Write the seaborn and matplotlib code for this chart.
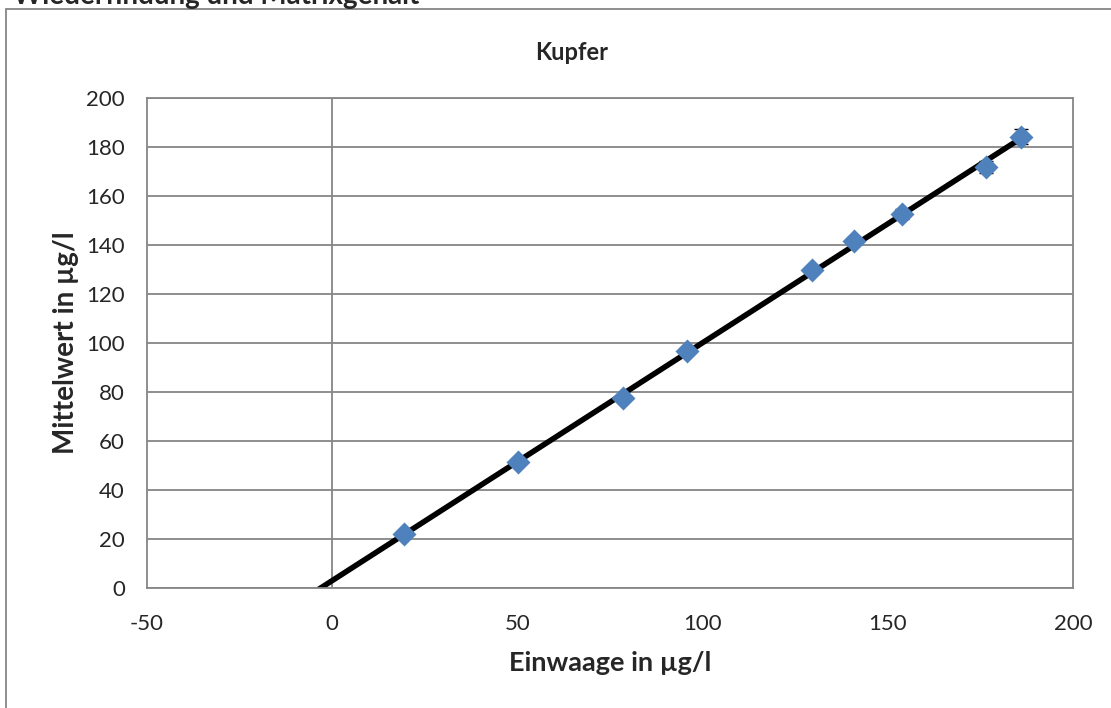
import numpy as np
import pandas as pd
import seaborn as sns
import matplotlib.pyplot as plt
from matplotlib.patches import Rectangle

# Data (Kupfer)
einwaage = [19.5, 50.2, 78.4, 95.9, 129.5, 141.0, 153.8, 176.5, 186.0]
mittelwert = [22.1, 51.5, 77.5, 96.9, 129.6, 141.7, 152.6, 171.8, 184.2]
fehler = [1.0, 1.0, 1.0, 1.2, 1.5, 1.5, 2.0, 2.5, 3.0]

x_ticks = [-50, 0, 50, 100, 150, 200]
y_ticks = [0, 20, 40, 60, 80, 100, 120, 140, 160, 180, 200]

df = pd.DataFrame({"Einwaage": einwaage, "Mittelwert": mittelwert, "Fehler": fehler})

sns.set_theme(style="white")
plt.rcParams['font.family'] = ['Lato', 'DejaVu Sans']
plt.rcParams['axes.unicode_minus'] = False

grid_col = '#868686'
blue = '#4F81BD'

fig = plt.figure(figsize=(11.11, 7.08), dpi=100)
ax = fig.add_axes([0.1323, 0.1695, 0.8335, 0.6921])

# outer chart frame (runs off the right and bottom edge)
fig.patches.append(Rectangle((0.005, -0.1), 1.2, 0.9873 + 0.1, transform=fig.transFigure,
                             fill=False, edgecolor=grid_col, lw=1.3, clip_on=False))

ax.set_xlim(-50, 200)
ax.set_ylim(0, 200)
for y in y_ticks:
    ax.axhline(y, color=grid_col, lw=1.3, zorder=1)
ax.axvline(0, color=grid_col, lw=1.3, zorder=1)

# linear trendline
slope, intercept = np.polyfit(df["Einwaage"], df["Mittelwert"], 1)
xl = np.array([-20, max(einwaage)])
ax.plot(xl, slope * xl + intercept, color='black', lw=4, zorder=2, solid_capstyle='butt')

ax.errorbar(df["Einwaage"], df["Mittelwert"], yerr=df["Fehler"], fmt='none',
            ecolor='black', elinewidth=1, capsize=5, zorder=3)
sns.scatterplot(data=df, x="Einwaage", y="Mittelwert", marker='D', s=150,
                color=blue, edgecolor=blue, linewidth=0, zorder=4, ax=ax)

for s in ax.spines.values():
    s.set_color(grid_col)
    s.set_linewidth(1.3)

ax.set_xticks(x_ticks)
ax.set_yticks(y_ticks)
ax.tick_params(axis='x', length=7, color=grid_col, width=1.3, pad=12, labelsize=16)
ax.tick_params(axis='y', length=0, pad=16, labelsize=16)

ax.set_xlabel("Einwaage in µg/l", fontsize=19.5, fontweight='bold', labelpad=12)
ax.set_ylabel("Mittelwert in µg/l", fontsize=20, fontweight='bold', labelpad=5)

fig.text(572 / 1111, 1 - 52 / 708, "Kupfer", ha='center', va='center',
         fontsize=17, fontweight='bold')
fig.text(13 / 1111, 1 - 4 / 708, "Wiederfindung und Matrixgehalt", ha='left', va='baseline',
         fontsize=20, fontweight='bold')

fig.savefig("out.png", dpi=100)
